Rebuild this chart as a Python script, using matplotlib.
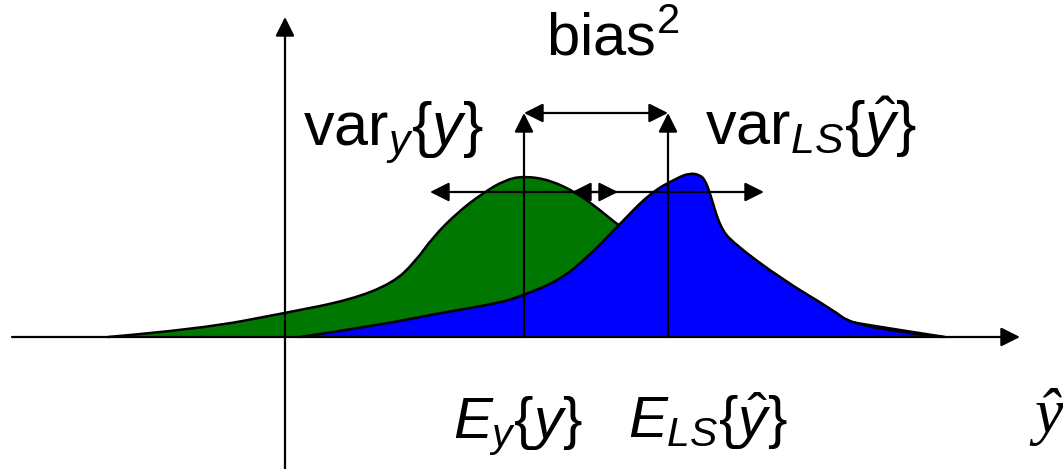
import numpy as np
import matplotlib.pyplot as plt
from matplotlib.path import Path
from matplotlib.patches import PathPatch

plt.rcParams['mathtext.fontset'] = 'custom'
plt.rcParams['mathtext.rm'] = 'Liberation Sans'
plt.rcParams['mathtext.it'] = 'Liberation Sans:italic'
plt.rcParams['font.family'] = ['Liberation Sans', 'DejaVu Sans']

# Outline of the distribution of y (green)
green_x = [-177, -85, 0, 65, 108, 130, 148, 173, 198, 220, 239, 265, 292, 315, 333,
           375, 435, 515, 565, 615, 660]
green_y = [0, 8, 24, 37, 54, 75, 100, 125, 144, 157, 161, 157, 144, 127, 112,
           82, 47, 24, 15, 7, 0]

# Outline of the distribution of the LS estimate (blue)
blue_x = [15, 95, 155, 215, 239, 275, 305, 332, 365, 392, 405, 415, 420, 425, 435,
          448, 498, 548, 565, 615, 658]
blue_y = [0, 12, 24, 34, 42, 57, 82, 110, 144, 159, 164, 162, 157, 144, 110,
          94, 57, 27, 14, 5, 0]

# Means and half widths of the spread arrows
mean_y = 239
mean_ls = 383
spread_y = 94
spread_ls = 96

fig = plt.figure(figsize=(10.63, 4.69), dpi=100)
ax = fig.add_axes([0, 0, 1, 1])
ax.set_xlim(-285, 778)
ax.set_ylim(-132, 337)
ax.axis('off')


def smooth_patch(xs, ys, color, z):
    # quadratic bezier pieces through the midpoints, points act as controls
    pts = np.column_stack([xs, ys]).astype(float)
    verts = [pts[0]]
    codes = [Path.MOVETO]
    for i in range(1, len(pts) - 1):
        mid = (pts[i] + pts[i + 1]) / 2
        verts += [pts[i], mid]
        codes += [Path.CURVE3, Path.CURVE3]
    verts.append(pts[-1])
    codes.append(Path.LINETO)
    ax.add_patch(PathPatch(Path(verts, codes), facecolor=color,
                           edgecolor='black', lw=1.8, zorder=z))


smooth_patch(green_x, green_y, '#007700', 2)
smooth_patch(blue_x, blue_y, '#0000ff', 3)


def arrow(x0, y0, x1, y1, style='-|>'):
    ax.annotate('', xy=(x1, y1), xytext=(x0, y0),
                arrowprops=dict(arrowstyle=style + ',head_length=0.4,head_width=0.2',
                                mutation_scale=29, color='black', lw=1.6,
                                shrinkA=0, shrinkB=0), zorder=5)


# axes
arrow(-273, 0, 735, 0)
arrow(0, -132, 0, 320)

# mean markers and bias arrow
top = 224
arrow(mean_y, 0, mean_y, top)
arrow(mean_ls, 0, mean_ls, top)
arrow(mean_y, top, mean_ls, top, '<|-|>')

# spread arrows
arrow(mean_y - spread_y, 145, mean_y + spread_y, 145, '<|-|>')
arrow(mean_ls - spread_ls, 145, mean_ls + spread_ls, 145, '<|-|>')

ax.text(261, 282, r'bias$^2$', fontsize=43, ha='left', va='baseline')
ax.text(18, 192, r'$\mathrm{var}_{y}\{y\}$', fontsize=44, ha='left', va='baseline')
ax.text(420, 192, r'$\mathrm{var}_{LS}\{\hat{y}\}$', fontsize=44, ha='left', va='baseline')
ax.text(168, -101, r'$E_{y}\{y\}$', fontsize=42, ha='left', va='baseline')
ax.text(343, -101, r'$E_{LS}\{\hat{y}\}$', fontsize=42, ha='left', va='baseline')
ax.text(749, -95, 'ŷ', fontsize=46, family='Liberation Serif', style='italic',
        ha='left', va='baseline')

fig.savefig('out.png', dpi=100)
